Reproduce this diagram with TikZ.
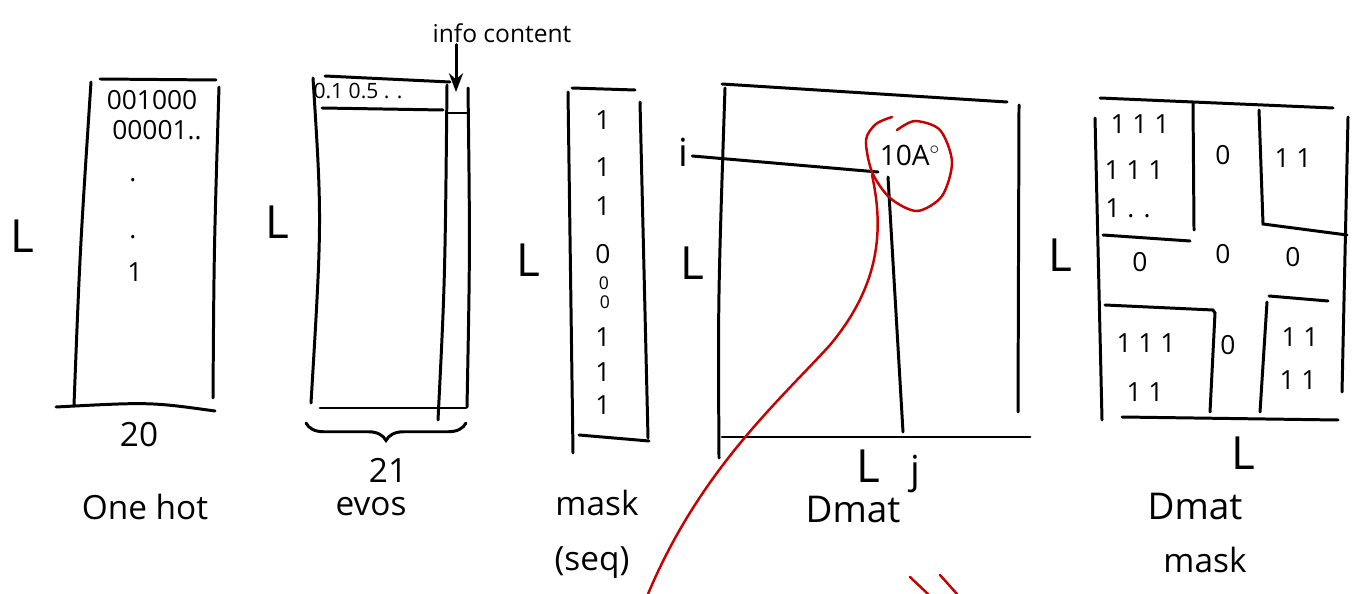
\documentclass[tikz,border=0pt]{standalone}
\usepackage{fontspec}
\setmainfont{Open Sans}
\usepackage{tikz}
\usetikzlibrary{arrows.meta, decorations.pathreplacing}
\definecolor{ink}{RGB}{0,0,0}
\definecolor{redink}{RGB}{200,0,0}

\begin{document}
\begin{tikzpicture}[x=0.02cm, y=-0.02cm, >=Stealth]
  \tikzstyle{pen} = [draw=ink, line width=1.7pt, line cap=round]
  \tikzstyle{redpen} = [draw=redink, line width=1.4pt, line cap=round]
  \tikzstyle{dimlabel} = [font=\fontsize{26}{28}\selectfont, inner sep=0pt]
  \tikzstyle{caption} = [font=\fontsize{19}{22}\selectfont, inner sep=1pt]
  \tikzstyle{cell} = [font=\fontsize{15}{16}\selectfont, inner sep=0pt]
  \tikzstyle{smallcell} = [font=\fontsize{10}{11}\selectfont, inner sep=0pt]

  \useasboundingbox (0, 0) rectangle (1361, 594);

  % one hot
  \draw[pen] (100, 79) -- (216, 80);
  \draw[pen] (91, 82) .. controls (80, 250) .. (74, 405);
  \draw[pen] (219, 87) .. controls (214, 250) .. (213, 398);
  \draw[pen] (56, 407) .. controls (150, 402) .. (215, 411);
  \node [cell] (oh1) at (152, 100) {001000};
  \node [cell] (oh2) at (157, 130) {00001..};
  \node [cell] (ohdot1) at (133, 180) {.};
  \node [cell] (ohdot2) at (133, 237) {.};
  \node [cell] (ohdot3) at (135, 272) {1};
  \node [dimlabel] (ohL) at (22, 236) {L};
  \node [caption] (oh20) at (139, 435) {20};
  \node [caption] (ohname) at (145, 507) {One hot};

  % evos
  \draw[pen] (325, 76) -- (450, 82);
  \draw[pen] (313, 78) .. controls (322, 220) .. (311, 403);
  \draw[pen] (322, 108) -- (443, 110);
  \draw[pen] (447, 85) .. controls (445, 280) .. (438, 420);
  \draw[pen] (468, 88) .. controls (470, 250) .. (467, 407);
  \draw[pen] (448, 113) -- (468, 113);
  \draw[pen] (320, 408) -- (466, 408);
  \node [cell, font=\fontsize{12}{13}\selectfont] (ev1) at (358, 91) {0.1 0.5 . .};
  \node [dimlabel] (evL) at (277, 222) {L};
  \node [caption, font=\fontsize{14}{16}\selectfont] (info) at (502, 33) {info content};
  \coordinate (infotip) at (456, 92);
  \draw[pen, ->] (info.south -| infotip) -- (infotip);
  \draw[pen, decorate, decoration={brace, mirror, amplitude=0.35cm}] (306, 423) -- (466, 423);
  \node [caption] (ev21) at (388, 470) {21};
  \node [caption] (evname) at (371, 507) {evos};

  % mask
  \draw[pen] (572, 88) -- (635, 90);
  \draw[pen] (568, 92) -- (573, 453);
  \draw[pen] (640, 102) -- (648, 438);
  \draw[pen] (579, 435) -- (649, 441);
  \foreach \v/\y in {1/120, 1/167, 1/206, 0/254, 1/337, 1/372, 1/405}
    \node [cell] (mk\y) at (603, \y) {\v};
  \node [smallcell] (mk283) at (604, 283) {0};
  \node [smallcell] (mk302) at (605, 302) {0};
  \node [dimlabel] (mkL) at (528, 260) {L};
  \node [caption] (mkname) at (597, 503) {mask};
  \node [caption] (mkseq) at (592, 563) {(seq)};

  % Dmat
  \draw[pen] (722, 84) -- (1007, 102);
  \draw[pen] (725, 88) .. controls (718, 300) .. (719, 458);
  \draw[pen] (1019, 105) -- (1018, 412);
  \draw[pen] (722, 437) -- (1030, 437);
  \node [dimlabel, font=\fontsize{22}{24}\selectfont] (dmi) at (683, 152) {i};
  \node [dimlabel] (dmL) at (692, 263) {L};
  \node [dimlabel] (dmLb) at (868, 466) {L};
  \node [dimlabel, font=\fontsize{22}{24}\selectfont] (dmj) at (915, 474) {j};
  \coordinate (cellij) at (878, 172);
  \coordinate (jfoot) at (903, 432);
  \draw[pen] (dmi.east) ++(4, 4) -- (cellij);
  \draw[pen] (888, 177) -- (jfoot);
  \node [cell, font=\fontsize{16}{18}\selectfont] (tenA) at (910, 155) {10A$^{\circ}$};
  \node [caption, font=\fontsize{21}{24}\selectfont] (dmname) at (853, 510) {Dmat};

  \draw[redpen] plot[smooth] coordinates {(897, 130) (915, 121) (940, 130) (952, 162) (942, 196) (917, 211) (890, 198) (872, 172) (866, 140) (876, 124) (892, 117)};
  \coordinate (redstart) at (872, 175);
  \coordinate (redend) at (648, 594);
  \draw[redpen] (redstart) .. controls (884, 230) and (880, 285) .. (830, 345) .. controls (780, 400) and (700, 470) .. (redend);
  \draw[redpen] (910, 577) -- (928, 594);
  \draw[redpen] (940, 575) -- (957, 594);

  % Dmat mask
  \draw[pen] (1100, 98) -- (1333, 108);
  \draw[pen] (1095, 118) -- (1102, 420);
  \draw[pen] (1348, 117) -- (1342, 392);
  \draw[pen] (1122, 417) -- (1338, 420);
  \draw[pen] (1193, 103) -- (1194, 230);
  \draw[pen] (1103, 235) -- (1190, 241);
  \draw[pen] (1259, 110) -- (1263, 224) -- (1347, 235);
  \draw[pen] (1105, 305) -- (1213, 310) -- (1215, 313) -- (1210, 412);
  \draw[pen] (1269, 296) -- (1328, 301);
  \draw[pen] (1267, 302) -- (1260, 412);
  \node [cell] (tl1) at (1140, 124) {1 1 1};
  \node [cell] (tl2) at (1134, 170) {1 1 1};
  \node [cell] (tl3) at (1128, 208) {1 . .};
  \node [cell] (tr1) at (1293, 158) {1 1};
  \node [cell] (bl1) at (1146, 343) {1 1 1};
  \node [cell] (bl2) at (1145, 392) {1 1};
  \node [cell] (br1) at (1300, 337) {1 1};
  \node [cell] (br2) at (1298, 380) {1 1};
  \node [cell] (c0top) at (1223, 155) {0};
  \node [cell] (c0left) at (1140, 262) {0};
  \node [cell] (c0mid) at (1223, 254) {0};
  \node [cell] (c0right) at (1293, 257) {0};
  \node [cell] (c0bot) at (1228, 345) {0};
  \node [dimlabel] (dkL) at (1060, 255) {L};
  \node [dimlabel] (dkLb) at (1243, 453) {L};
  \node [caption, font=\fontsize{21}{24}\selectfont] (dkname) at (1195, 507) {Dmat};
  \node [caption] (dkmask) at (1205, 560) {mask};
\end{tikzpicture}
\end{document}
